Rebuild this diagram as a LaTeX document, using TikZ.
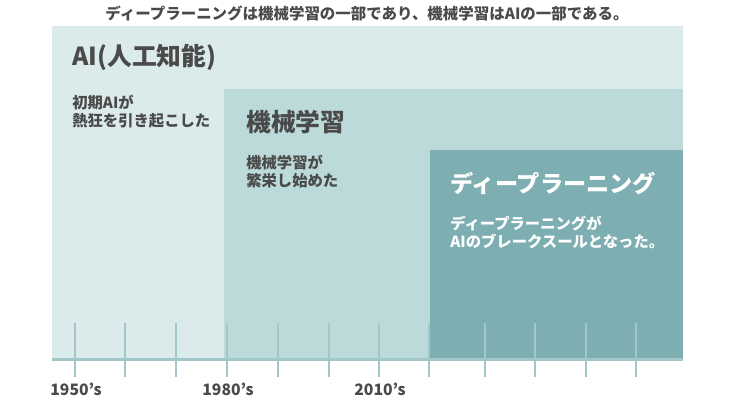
\documentclass[tikz,border=0pt]{standalone}
\usepackage{fontspec}
\setmainfont{Noto Sans CJK JP}
\definecolor{aibox}{HTML}{DBEAEA}
\definecolor{mlbox}{HTML}{BCDADA}
\definecolor{dlbox}{HTML}{7DAEB1}
\definecolor{tickc}{HTML}{A2C7C8}
\definecolor{inkc}{HTML}{4A4A4A}
\tikzset{
  head/.style={anchor=west, inner sep=0pt, font=\fontsize{18.6}{20}\selectfont\bfseries},
  note/.style={anchor=west, inner sep=0pt, align=left, font=\fontsize{11.5}{13.5}\selectfont\bfseries},
  year/.style={inner sep=0pt, text=inkc, font=\fontsize{11.8}{13}\selectfont\bfseries}
}
\begin{document}
\begin{tikzpicture}[x=0.75pt, y=-0.75pt]
        \useasboundingbox (0,0) rectangle (730,399);

        \fill [aibox] (52,26) rectangle (683,359);
        \fill [mlbox] (224,89) rectangle (683,359);
        \fill [dlbox] (430,150) rectangle (683,359);

        \node [inner sep=0pt, text=inkc, font=\fontsize{11.6}{13}\selectfont\bfseries] (title) at (367,13)
                {ディープラーニングは機械学習の一部であり、機械学習はAIの一部である。};

        \node [head, text=inkc] (ai) at (72,57) {AI(人工知能)};
        \node [note, text=inkc] (ainote) at (72,112) {初期AIが\\熱狂を引き起こした};
        \node [head, text=inkc] (ml) at (246,122) {機械学習};
        \node [note, text=inkc] (mlnote) at (246,172) {機械学習が\\繁栄し始めた};
        \node [head, text=white, font=\fontsize{17.4}{20}\selectfont\bfseries] (dl) at (450,183) {ディープラーニング};
        \node [note, text=white] (dlnote) at (450,232) {ディープラーニングが\\AIのブレークスールとなった。};

        % time axis
        \draw [tickc, line width=2.2pt] (52,359.5) -- (683,359.5);
        \draw [tickc, line width=2pt] (75,323) -- (75,377);
        \draw [tickc, line width=2pt] (125,323) -- (125,377);
        \draw [tickc, line width=2pt] (176,323) -- (176,377);
        \draw [tickc, line width=2pt] (227,323) -- (227,377);
        \draw [tickc, line width=2pt] (278,323) -- (278,377);
        \draw [tickc, line width=2pt] (329,323) -- (329,377);
        \draw [tickc, line width=2pt] (379,323) -- (379,377);
        \draw [tickc, line width=2pt] (429,323) -- (429,377);
        \draw [tickc, line width=2pt] (485,323) -- (485,377);
        \draw [tickc, line width=2pt] (535,323) -- (535,377);
        \draw [tickc, line width=2pt] (586,323) -- (586,377);
        \draw [tickc, line width=2pt] (636,323) -- (636,377);

        \node [year] (y1950) at (76,389) {1950’s};
        \node [year] (y1980) at (228,389) {1980’s};
        \node [year] (y2010) at (380,389) {2010’s};
\end{tikzpicture}
\end{document}
